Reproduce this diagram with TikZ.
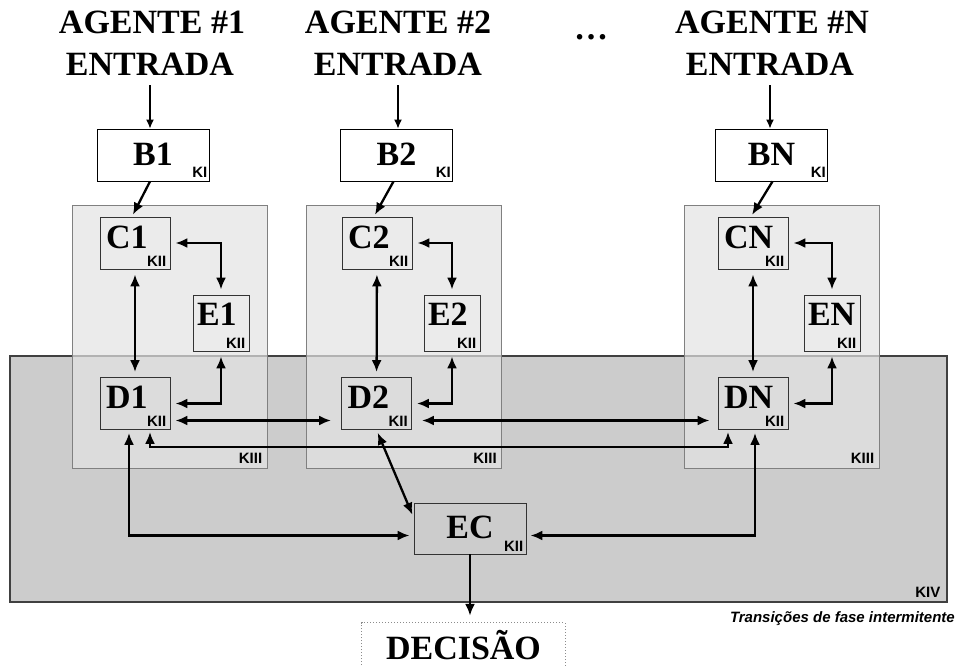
\documentclass[tikz,border=0pt]{standalone}
\usepackage{fontspec}
\setmainfont{Liberation Serif}
\newfontfamily\ksans{Liberation Sans}
\usetikzlibrary{arrows.meta}

\tikzset{
	big/.style={font=\bfseries\fontsize{34}{40}\selectfont},
	ttl/.style={big, anchor=base, inner sep=0pt, inner ysep=10pt},
	ksub/.style={font=\ksans\bfseries\fontsize{15}{15}\selectfont, inner sep=0pt, anchor=base east},
	bbox/.style={big, draw=black, line width=0.9pt, fill=white, minimum width=112pt, inner sep=0pt, text height=36pt, text depth=16pt},
	ecbox/.style={big, draw=black!80, line width=0.9pt, minimum width=112pt, inner sep=0pt, text height=35pt, text depth=16pt},
	cbox/.style={big, draw=black!80, line width=0.9pt, inner sep=0pt, inner xsep=6pt, text width=58pt, align=left, text height=31pt, text depth=21pt},
	ebox/.style={big, draw=black!80, line width=0.9pt, inner sep=0pt, inner xsep=4pt, text width=48pt, align=left, text height=30pt, text depth=26pt},
	kiii/.style={draw=black!50, line width=0.8pt, fill=black!11, fill opacity=0.7, minimum width=195pt, minimum height=263pt, inner sep=0pt},
	kiv/.style={draw=black!75, line width=1.1pt, fill=black!20, minimum width=937pt, minimum height=246pt, inner sep=0pt},
	arr/.style={line width=2.3pt, -{Latex[length=12pt,width=10pt]}},
	darr/.style={line width=2.3pt, {Latex[length=12pt,width=10pt]}-{Latex[length=12pt,width=10pt]}, shorten <=5pt, shorten >=5pt},
	tarr/.style={line width=1.3pt, -{Latex[length=9pt,width=8pt]}},
}

\begin{document}
\begin{tikzpicture}[x=1pt, y=-1pt]
	\useasboundingbox (0, 0) rectangle (958, 667);
	
	\node[kiv] (kiv) at (478.5, 479) {};
	\node[kiii] (g1) at (169.5, 336.5) {};
	\node[kiii] (g2) at (404, 336.5) {};
	\node[kiii] (gn) at (781.5, 336.5) {};
	
	\node[ttl] (ag1) at (152, 33) {AGENTE \#1};
	\node[ttl] (ent1) at (150, 75) {ENTRADA};
	\node[ttl] (ag2) at (398, 33) {AGENTE \#2};
	\node[ttl] (ent2) at (398, 75) {ENTRADA};
	\node[big, anchor=base] (dots) at (591, 39) {\ldots};
	\node[ttl] (agn) at (772, 33) {AGENTE \#N};
	\node[ttl] (entn) at (770, 75) {ENTRADA};
	
	\node[bbox] (b1) at (153, 155) {B1};
	\node[bbox] (b2) at (396.5, 155) {B2};
	\node[bbox] (bn) at (771.5, 155) {BN};
	
	\node[cbox] (c1) at (135, 243) {C1};
	\node[ebox] (e1) at (221, 323) {E1};
	\node[cbox] (d1) at (135, 403.5) {D1};
	
	\node[cbox] (c2) at (377, 243) {C2};
	\node[ebox] (e2) at (452, 323) {E2};
	\node[cbox] (d2) at (376.5, 403.5) {D2};
	
	\node[cbox] (cn) at (753, 243) {CN};
	\node[ebox] (en) at (832, 323) {EN};
	\node[cbox] (dn) at (753, 403.5) {DN};
	
	\node[ecbox] (ec) at (470, 528.5) {EC};
	\node[big, minimum width=203pt, inner sep=0pt, text height=36pt, text depth=6pt] (dec) at (463.5, 644) {DECISÃO};
	\draw[draw=black!45, dotted, line width=1pt] (dec.south west) -- (dec.north west) -- (dec.north east) -- (dec.south east);
	
	\node[ksub] (kb1) at ([xshift=-2pt, yshift=4pt]b1.south east) {KI};
	\node[ksub] (kb2) at ([xshift=-2pt, yshift=4pt]b2.south east) {KI};
	\node[ksub] (kbn) at ([xshift=-2pt, yshift=4pt]bn.south east) {KI};
	\node[ksub] (kc1) at ([xshift=-4pt, yshift=3pt]c1.south east) {KII};
	\node[ksub] (ke1) at ([xshift=-4pt, yshift=3pt]e1.south east) {KII};
	\node[ksub] (kd1) at ([xshift=-4pt, yshift=3pt]d1.south east) {KII};
	\node[ksub] (kc2) at ([xshift=-4pt, yshift=3pt]c2.south east) {KII};
	\node[ksub] (ke2) at ([xshift=-4pt, yshift=3pt]e2.south east) {KII};
	\node[ksub] (kd2) at ([xshift=-4pt, yshift=3pt]d2.south east) {KII};
	\node[ksub] (kcn) at ([xshift=-4pt, yshift=3pt]cn.south east) {KII};
	\node[ksub] (ken) at ([xshift=-4pt, yshift=3pt]en.south east) {KII};
	\node[ksub] (kdn) at ([xshift=-4pt, yshift=3pt]dn.south east) {KII};
	\node[ksub] (kec) at ([xshift=-3pt, yshift=3pt]ec.south east) {KII};
	\node[ksub] (kg1) at ([xshift=-5pt, yshift=5pt]g1.south east) {KIII};
	\node[ksub] (kg2) at ([xshift=-5pt, yshift=5pt]g2.south east) {KIII};
	\node[ksub] (kgn) at ([xshift=-5pt, yshift=5pt]gn.south east) {KIII};
	\node[ksub] (kkiv) at ([xshift=-7pt, yshift=5pt]kiv.south east) {KIV};
	\node[font=\ksans\bfseries\itshape\fontsize{15}{15}\selectfont, anchor=base east, inner sep=0pt] (trans) at (955, 622) {Transições de fase intermitente};
	
	\draw[tarr] (ent1.south) -- (ent1.south |- b1.north);
	\draw[tarr] (ent2.south) -- (ent2.south |- b2.north);
	\draw[tarr] (entn.south) -- (entn.south |- bn.north);
	
	\draw[arr, shorten >=2pt] ([xshift=-3pt]b1.south) -- ([xshift=-3pt]c1.north);
	\draw[arr, shorten >=2pt] ([xshift=-3pt]b2.south) -- ([xshift=-3pt]c2.north);
	\draw[arr, shorten >=2pt] ([xshift=1pt]bn.south) -- ([xshift=-2pt]cn.north);
	
	\draw[darr] (c1.east) -| (e1.north);
	\draw[darr] (c1) -- (d1);
	\draw[darr] (d1.east) -| (e1.south);
	
	\draw[darr] (c2.east) -| (e2.north);
	\draw[darr] (c2) -- (d2);
	\draw[darr] (d2.east) -| (e2.south);
	
	\draw[darr] (cn.east) -| (en.north);
	\draw[darr] (cn) -- (dn);
	\draw[darr] (dn.east) -| (en.south);
	
	\draw[darr, shorten >=10pt] ([yshift=-17pt]d1.east) -- ([yshift=-17pt]d1.east -| d2.west);
	\draw[darr, shorten <=10pt, shorten >=8pt] ([yshift=-17pt]d2.east) -- ([yshift=-17pt]d2.east -| dn.west);
	\draw[darr, shorten <=2pt, shorten >=2pt] ([xshift=15pt]d1.south) -- ++(0, 17) -| ([xshift=-25pt]dn.south);
	
	\draw[darr, shorten <=3pt, shorten >=3pt] (d2.south) -- ([yshift=11pt]ec.west);
	\draw[darr, shorten <=3pt, shorten >=4pt] ([xshift=-6pt]d1.south) |- ([yshift=-7pt]ec.west);
	\draw[darr, shorten <=3pt, shorten >=4pt] ([xshift=2pt]dn.south) |- ([yshift=-7pt]ec.east);
	\draw[arr, shorten >=7pt] (ec.south) -- (ec.south |- dec.north);
	
\end{tikzpicture}
\end{document}
